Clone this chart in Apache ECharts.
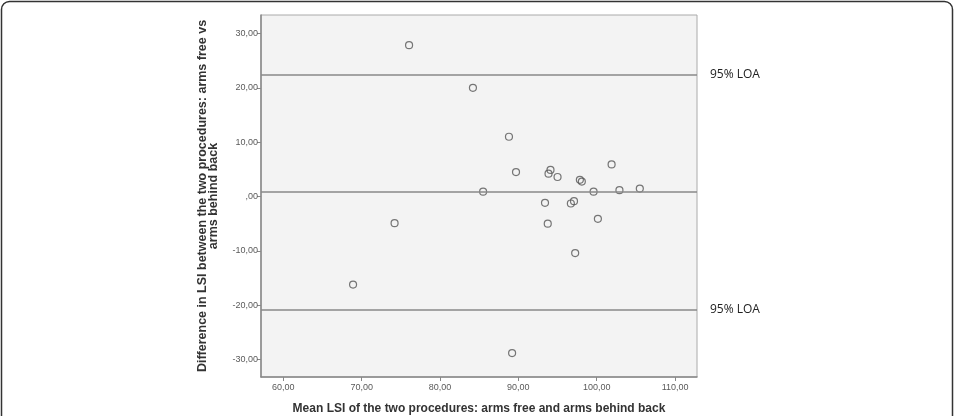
<!DOCTYPE html>
<html>
<head>
<meta charset="utf-8">
<script src="https://cdn.jsdelivr.net/npm/echarts@6/dist/echarts.min.js"></script>
<style>
  html, body { margin: 0; padding: 0; background: #fff; }
  #chart { width: 965px; height: 416px; }
</style>
</head>
<body>
<div id="chart"></div>
<script>
// mean LSI of both procedures (x) and their difference (y)
const meanLsi = [76.05, 84.2, 88.8, 89.7, 85.5, 93.85, 94.1, 95.0, 97.85, 98.1, 101.9, 99.6,
  102.9, 105.5, 93.4, 96.7, 97.1, 100.15, 93.75, 97.25, 89.2, 74.2, 68.9];
const diffLsi = [27.85, 20.0, 11.0, 4.5, 0.9, 4.2, 4.9, 3.6, 3.07, 2.76, 5.9, 0.9,
  1.17, 1.47, -1.16, -1.28, -0.85, -4.1, -5.0, -10.4, -28.8, -4.9, -16.2];

const xTicks = [60, 70, 80, 90, 100, 110];
const yTicks = [-30, -20, -10, 0, 10, 20, 30];

const meanDiff = 0.92;
const upperLoa = 22.4;
const lowerLoa = -20.74;
const loaLabel = '95% LOA';

const fmt = v => (v === 0 ? ',00' : v.toFixed(2).replace('.', ','));

const chart = echarts.init(document.getElementById('chart'));

chart.setOption({
  animation: false,
  textStyle: { fontFamily: 'Liberation Sans, Arial, sans-serif' },
  graphic: [{
    type: 'rect',
    shape: { x: 1.5, y: 1.5, width: 951, height: 440, r: 8 },
    style: { fill: 'none', stroke: '#333', lineWidth: 1.5 },
    silent: true
  }],
  grid: {
    left: 261, top: 15, right: 268, bottom: 39,
    containLabel: false,
    outerBoundsMode: 'none',
    show: true,
    backgroundColor: '#f3f3f3',
    borderColor: '#aaa',
    borderWidth: 1
  },
  xAxis: {
    type: 'value',
    min: 57.15,
    max: 112.8,
    name: 'Mean LSI of the two procedures: arms free and arms behind back',
    nameLocation: 'middle',
    nameGap: 26,
    nameTextStyle: { fontSize: 12, fontWeight: 'bold', color: '#333' },
    axisLine: { show: true, onZero: false, lineStyle: { color: '#888', width: 1.5 } },
    axisTick: { show: true, length: 4, customValues: xTicks, lineStyle: { color: '#888' } },
    axisLabel: { customValues: xTicks, formatter: fmt, fontSize: 9, color: '#5a5a5a', margin: 6 },
    splitLine: { show: false }
  },
  yAxis: {
    type: 'value',
    min: -33.2,
    max: 33.4,
    name: 'Difference in LSI between the two procedures: arms free vs\narms behind back',
    nameLocation: 'middle',
    nameRotate: 90,
    nameGap: 42,
    nameTextStyle: { fontSize: 12.5, fontWeight: 'bold', color: '#333', lineHeight: 11, align: 'center' },
    axisLine: { show: true, onZero: false, lineStyle: { color: '#888', width: 1.5 } },
    axisTick: { show: true, length: 4, customValues: yTicks, lineStyle: { color: '#888' } },
    axisLabel: { customValues: yTicks, formatter: fmt, fontSize: 9, color: '#5a5a5a', margin: 3 },
    splitLine: { show: false }
  },
  series: [{
    type: 'scatter',
    data: meanLsi.map((x, i) => [x, diffLsi[i]]),
    symbol: 'circle',
    symbolSize: 7,
    itemStyle: { color: 'rgba(0,0,0,0)', borderColor: '#555', borderWidth: 1.2 },
    markLine: {
      silent: true,
      symbol: 'none',
      lineStyle: { color: '#888', width: 1.5, type: 'solid' },
      label: { show: false },
      data: [
        { yAxis: upperLoa, label: { show: true, position: 'end', formatter: loaLabel, fontFamily: 'Open Sans', fontSize: 12, color: '#222', distance: 13 } },
        { yAxis: meanDiff },
        { yAxis: lowerLoa, label: { show: true, position: 'end', formatter: loaLabel, fontFamily: 'Open Sans', fontSize: 12, color: '#222', distance: 13 } }
      ]
    }
  }]
});
</script>
</body>
</html>
